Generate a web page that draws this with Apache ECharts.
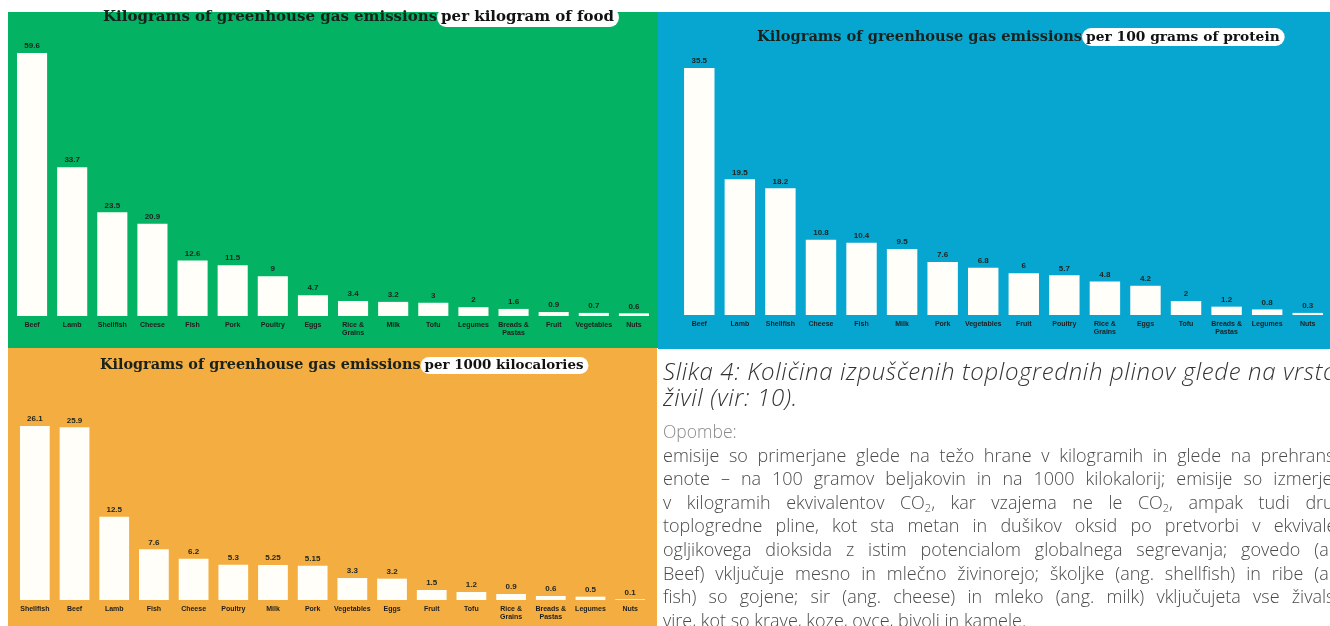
<!DOCTYPE html>
<html>
<head>
<meta charset="utf-8">
<script src="https://cdn.jsdelivr.net/npm/echarts@6/dist/echarts.min.js"></script>
<style>
  html, body { margin: 0; padding: 0; background: #ffffff; overflow: hidden; }
  #chart { position: absolute; left: 0; top: 0; width: 1330px; height: 626px; }
  #cap { position: absolute; left: 663px; top: 358px; width: 667px; height: 268px; overflow: hidden; font-family: "Open Sans", Lato, sans-serif; }
  .h { font-size: 24px; font-style: italic; font-weight: 300; color: #333; line-height: 26px; white-space: nowrap; letter-spacing: 0.65px; }
  .op { font-size: 17.5px; font-weight: 300; color: #8a8a8a; line-height: 23.6px; margin-top: 10px; white-space: nowrap; }
  .b { font-size: 18px; font-weight: 300; color: #4a4a4a; line-height: 23.6px; width: 690px; white-space: nowrap; text-align: justify; text-align-last: justify; }
  .b.last { text-align-last: left; }
  sub { font-size: 11px; line-height: 0; vertical-align: -3px; }
</style>
</head>
<body>
<div id="chart"></div>
<div id="cap">
  <div class="h">Slika 4: Količina izpuščenih toplogrednih plinov glede na vrsto</div>
  <div class="h">živil (vir: 10).</div>
  <div class="op">Opombe:</div>
  <div class="b">emisije so primerjane glede na težo hrane v kilogramih in glede na prehranske</div>
  <div class="b">enote – na 100 gramov beljakovin in na 1000 kilokalorij; emisije so izmerjene</div>
  <div class="b">v kilogramih ekvivalentov CO<sub>2</sub>, kar vzajema ne le CO<sub>2</sub>, ampak tudi druge</div>
  <div class="b">toplogredne pline, kot sta metan in dušikov oksid po pretvorbi v ekvivalent</div>
  <div class="b">ogljikovega dioksida z istim potencialom globalnega segrevanja; govedo (ang.</div>
  <div class="b">Beef) vključuje mesno in mlečno živinorejo; školjke (ang. shellfish) in ribe (ang.</div>
  <div class="b">fish) so gojene; sir (ang. cheese) in mleko (ang. milk) vključujeta vse živalske</div>
  <div class="b last">vire, kot so krave, koze, ovce, bivoli in kamele.</div>
</div>
<script>
// ---- Data ----
const foodCats = ['Beef','Lamb','Shellfish','Cheese','Fish','Pork','Poultry','Eggs','Rice &\nGrains','Milk','Tofu','Legumes','Breads &\nPastas','Fruit','Vegetables','Nuts'];
const foodVals = [59.6, 33.7, 23.5, 20.9, 12.6, 11.5, 9.0, 4.7, 3.4, 3.2, 3.0, 2, 1.6, 0.9, 0.7, 0.6];

const proteinCats = ['Beef','Lamb','Shellfish','Cheese','Fish','Milk','Pork','Vegetables','Fruit','Poultry','Rice &\nGrains','Eggs','Tofu','Breads &\nPastas','Legumes','Nuts'];
const proteinVals = [35.5, 19.5, 18.2, 10.8, 10.4, 9.5, 7.6, 6.8, 6, 5.7, 4.8, 4.2, 2, 1.2, 0.8, 0.3];

const kcalCats = ['Shellfish','Beef','Lamb','Fish','Cheese','Poultry','Milk','Pork','Vegetables','Eggs','Fruit','Tofu','Rice &\nGrains','Breads &\nPastas','Legumes','Nuts'];
const kcalVals = [26.1, 25.9, 12.5, 7.6, 6.2, 5.3, 5.25, 5.15, 3.3, 3.2, 1.5, 1.2, 0.9, 0.6, 0.5, 0.1];

const titleMain = 'Kilograms of greenhouse gas emissions';
const titleHighlights = ['per kilogram of food', 'per 100 grams of protein', 'per 1000 kilocalories'];

// ---- Chart ----
const chart = echarts.init(document.getElementById('chart'), null, { renderer: 'canvas' });

const GREEN = '#03b262', BLUE = '#07a6d1', ORANGE = '#f4ad40';
function mkTitle(i, left, top, sizeA, sizeB) {
  return { text: '{a|' + titleMain + '}{b|' + titleHighlights[i] + '}', left: left, top: top,
           padding: 0, textStyle: { rich: {
             a: { fontFamily: 'DejaVu Serif', fontWeight: 'bold', fontSize: sizeA, color: '#1a221e' },
             b: { fontFamily: 'DejaVu Serif', fontWeight: 'bold', fontSize: sizeB, color: '#121212',
                  backgroundColor: '#ffffff', borderRadius: 9, padding: [2, 5, 2, 4] }
           } } };
}
function mkX(idx, cats) {
  return { type: 'category', gridIndex: idx, data: cats,
    axisLine: { show: false }, axisTick: { show: false },
    axisLabel: { interval: 0, fontSize: 7, color: '#1e1e1e', fontFamily: 'Liberation Sans', fontWeight: 'bold', lineHeight: 8, margin: 5 } };
}
function mkY(idx, max) {
  return { type: 'value', gridIndex: idx, min: 0, max: max, show: false, splitLine: { show: false } };
}
function mkS(idx, vals) {
  return { type: 'bar', xAxisIndex: idx, yAxisIndex: idx, data: vals, barCategoryGap: '25%',
    itemStyle: { color: '#fffef8' },
    label: { show: true, position: 'top', distance: 3, fontSize: 8, fontWeight: 'bold', color: '#1c241e', fontFamily: 'Liberation Sans' } };
}

chart.setOption({
  animation: false,
  graphic: [
    { type: 'rect', shape: { x: 8, y: 12, width: 650, height: 336 }, style: { fill: GREEN }, z: -10 },
    { type: 'rect', shape: { x: 658, y: 12, width: 672, height: 337 }, style: { fill: BLUE }, z: -10 },
    { type: 'rect', shape: { x: 8, y: 348, width: 649, height: 278 }, style: { fill: ORANGE }, z: -10 }
  ],
  title: [ mkTitle(0, 103, 8, 15, 15), mkTitle(1, 757, 28, 14.6, 13.8), mkTitle(2, 100, 357, 14.4, 13.4) ],
  grid: [
    { left: 12, right: 676, top: 53, bottom: 310 },
    { left: 679, right: 2, top: 68, bottom: 311 },
    { left: 15, right: 680, top: 426, bottom: 26 }
  ],
  xAxis: [ mkX(0, foodCats), mkX(1, proteinCats), mkX(2, kcalCats) ],
  yAxis: [ mkY(0, 59.6), mkY(1, 35.5), mkY(2, 26.1) ],
  series: [ mkS(0, foodVals), mkS(1, proteinVals), mkS(2, kcalVals) ]
});
</script>
</body>
</html>
